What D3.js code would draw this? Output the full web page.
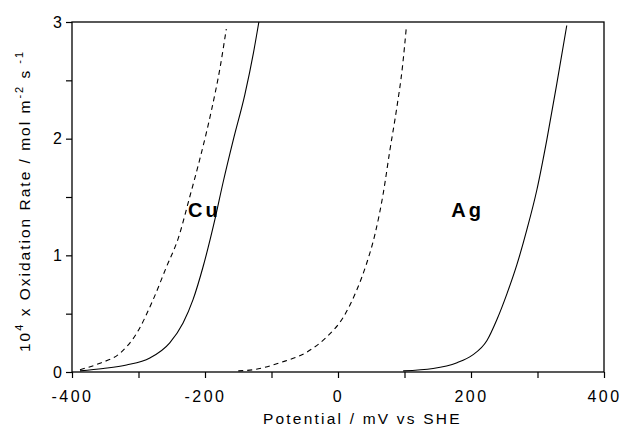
<!DOCTYPE html>
<html><head><meta charset="utf-8">
<script src="https://cdn.jsdelivr.net/npm/d3@7"></script>
<style>body{margin:0;background:#fff}text{font-family:Arial,"Liberation Sans",sans-serif;fill:#000}</style>
</head><body>
<svg id="c" width="625" height="430"></svg>
<script>
// Potential (mV vs SHE), rate (x1e-4 mol m^-2 s^-1)
const cuDashedX = [-388,-358,-328,-303,-278,-258,-240,-223,-208,-190,-177,-168];
const cuDashedY = [0.02,0.075,0.16,0.33,0.62,0.90,1.15,1.50,1.82,2.25,2.62,2.94];
const cuSolidX = [-388,-353,-318,-283,-253,-233,-218,-203,-185,-173,-157,-140,-127,-119];
const cuSolidY = [0.01,0.03,0.06,0.12,0.25,0.42,0.62,0.90,1.31,1.62,2.00,2.38,2.74,3.0];
const agDashedX = [-150,-127,-87,-47,-17,8,28,43,56,68,78,88,97,103];
const agDashedY = [0.01,0.02,0.08,0.17,0.30,0.47,0.70,0.93,1.19,1.53,1.90,2.25,2.62,2.97];
const agSolidX = [98,143,179,201,224,239,254,269,284,299,314,329,344];
const agSolidY = [0.01,0.03,0.08,0.14,0.27,0.45,0.67,0.92,1.22,1.56,1.99,2.47,2.97];
const xTicks = [-400,-200,0,200,400];
const xMinor = [-300,-100,100,300];
const yTicks = [0,1,2,3];
const yMinor = [0.5,1.5,2.5];
const labels = [{t:"Cu",x:-201,y:1.33},{t:"Ag",x:195,y:1.33}];

const svg = d3.select("#c");
const L=72,R=604,T=22,B=372;
const x = d3.scaleLinear().domain([-400,400]).range([L,R]);
const y = d3.scaleLinear().domain([0,3]).range([B,T]);

svg.append("clipPath").attr("id","cl").append("rect").attr("x",L).attr("y",T-1).attr("width",R-L).attr("height",B-T+1);

const line = d3.line().x(d=>x(d[0])).y(d=>y(d[1])).curve(d3.curveMonotoneX);
const series = [
  [cuDashedX,cuDashedY,true],[cuSolidX,cuSolidY,false],
  [agDashedX,agDashedY,true],[agSolidX,agSolidY,false]];
const g = svg.append("g").attr("clip-path","url(#cl)");
series.forEach(([xs,ys,dash])=>{
  g.append("path").attr("d",line(xs.map((v,i)=>[v,ys[i]])))
   .attr("fill","none").attr("stroke","#000").attr("stroke-width",1.1)
   .attr("stroke-dasharray",dash?"5,4":null);
});

// frame
svg.append("rect").attr("x",L).attr("y",T).attr("width",R-L).attr("height",B-T)
  .attr("fill","none").attr("stroke","#000").attr("stroke-width",1.3);

const xa = svg.append("g").attr("transform",`translate(0,${B})`)
  .call(d3.axisBottom(x).tickValues(xTicks).tickSize(6).tickPadding(8).tickFormat(d=>String(d)));
svg.append("g").attr("transform",`translate(0,${B})`)
  .call(d3.axisBottom(x).tickValues(xMinor).tickSize(6).tickFormat(""));
const ya = svg.append("g").attr("transform",`translate(${L},0)`)
  .call(d3.axisLeft(y).tickValues(yTicks).tickSize(6).tickPadding(4).tickFormat(d=>String(d)));
svg.append("g").attr("transform",`translate(${L},0)`)
  .call(d3.axisLeft(y).tickValues(yMinor).tickSize(6).tickFormat(""));
svg.selectAll(".domain").remove();
svg.selectAll(".tick line").attr("stroke","#000").attr("stroke-width",1.2);
svg.selectAll(".tick text").attr("font-size",16)
  .attr("font-family","Arial, Liberation Sans, sans-serif").attr("fill","#000");
xa.selectAll(".tick text").attr("dy","1em").attr("letter-spacing",2.5);

svg.append("text").attr("x",263).attr("y",424).attr("text-anchor","start")
  .attr("font-size",15.5).attr("letter-spacing",2.2).text("Potential / mV vs SHE");

const yt = svg.append("text").attr("transform",`translate(30,352) rotate(-90)`)
  .attr("text-anchor","start").attr("font-size",15.5).attr("letter-spacing",2.0);
yt.append("tspan").text("10");
yt.append("tspan").attr("dy",-7).attr("font-size",11).text("4");
yt.append("tspan").attr("dy",7).text(" x Oxidation Rate / mol m");
yt.append("tspan").attr("dy",-7).attr("font-size",11).text("-2");
yt.append("tspan").attr("dy",7).text(" s");
yt.append("tspan").attr("dy",-7).attr("font-size",11).text(" -1");

labels.forEach(l=>{
  svg.append("text").attr("x",x(l.x)).attr("y",y(l.y)).attr("text-anchor","middle")
    .attr("font-size",20).attr("font-weight","bold").attr("letter-spacing",3).text(l.t);
});
</script>
</body></html>
